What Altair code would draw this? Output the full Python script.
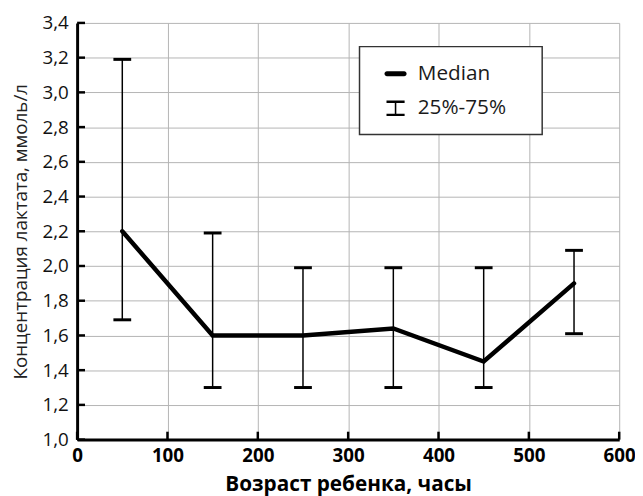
import altair as alt
import pandas as pd

hours = [50, 150, 250, 350, 450, 550]
median = [2.2, 1.6, 1.6, 1.64, 1.45, 1.9]
q25 = [1.69, 1.3, 1.3, 1.3, 1.3, 1.61]
q75 = [3.19, 2.19, 1.99, 1.99, 1.99, 2.09]
x_ticks = [0, 100, 200, 300, 400, 500, 600]
y_ticks = [1.0, 1.2, 1.4, 1.6, 1.8, 2.0, 2.2, 2.4, 2.6, 2.8, 3.0, 3.2, 3.4]
legend_labels = ["Median", "25%-75%"]

df = pd.DataFrame({"h": hours, "med": median, "q1": q25, "q3": q75})
W, H = 549, 422
FONT = "Open Sans"

xs = alt.Scale(domain=[0, 600], nice=False, zero=False)
ys = alt.Scale(domain=[1.0, 3.4], nice=False, zero=False)

xaxis = alt.Axis(values=x_ticks, tickCount=30, title="Возраст ребенка, часы", grid=True,
                 gridColor="#b4b4b4", gridWidth=1, ticks=False, domainColor="black", domainWidth=3,
                 labelOverlap=False,
                 labelFont=FONT, labelFontSize=19, labelFontWeight="bold", labelColor="black",
                 labelPadding=7, labelFlush=False,
                 titleFont=FONT, titleFontSize=21, titleFontWeight="bold", titleColor="black",
                 titleY=46, titleBaseline="middle")
yaxis = alt.Axis(values=y_ticks, tickCount=30, title="Концентрация лактата, ммоль/л", grid=True,
                 gridColor="#b4b4b4", gridWidth=1, ticks=False, domainColor="black", domainWidth=3,
                 labelOverlap=False,
                 labelFont=FONT, labelFontSize=19, labelColor="#111", labelPadding=9,
                 labelExpr="replace(format(datum.value, '.1f'), '.', ',')",
                 titleFont=FONT, titleFontSize=19, titleFontWeight="normal", titleColor="#222",
                 titleX=-57, titleBaseline="middle")

base = alt.Chart(df)

err = base.mark_rule(color="black", strokeWidth=1.5).encode(
    x=alt.X("h:Q", scale=xs, axis=xaxis),
    y=alt.Y("q1:Q", scale=ys, axis=yaxis),
    y2="q3:Q",
)
cap_lo = base.mark_tick(orient="horizontal", size=18, thickness=3, color="black", opacity=1).encode(
    x=alt.X("h:Q", scale=xs), y=alt.Y("q1:Q", scale=ys))
cap_hi = base.mark_tick(orient="horizontal", size=18, thickness=3, color="black", opacity=1).encode(
    x=alt.X("h:Q", scale=xs), y=alt.Y("q3:Q", scale=ys))
line = base.mark_line(color="black", strokeWidth=4.5, strokeCap="round").encode(
    x=alt.X("h:Q", scale=xs), y=alt.Y("med:Q", scale=ys))

ytick_df = pd.DataFrame({"v": y_ticks})
xtick_df = pd.DataFrame({"v": x_ticks})
yt = alt.Chart(ytick_df).mark_rule(color="black", strokeWidth=2.5).encode(
    y=alt.Y("v:Q", scale=ys), x=alt.value(0), x2=alt.value(8))
xt = alt.Chart(xtick_df).mark_rule(color="black", strokeWidth=2.5).encode(
    x=alt.X("v:Q", scale=xs), y=alt.value(H), y2=alt.value(H - 8))

box = alt.Chart(pd.DataFrame({"a": [0]})).mark_rect(fill="white", stroke="#333", strokeWidth=1.5).encode(
    x=alt.value(286), x2=alt.value(471), y=alt.value(24), y2=alt.value(113))

median_sym = ("M-0.78,-0.22H0.78A0.22,0.22 0 0 1 0.78,0.22H-0.78A0.22,0.22 0 0 1 -0.78,-0.22Z")
ibeam_sym = ("M-0.82,-0.7H0.82V-0.48H-0.82Z"
             "M-0.07,-0.48H0.07V0.48H-0.07Z"
             "M-0.82,0.48H0.82V0.7H-0.82Z")

leg = alt.Chart(pd.DataFrame({"s": legend_labels})).transform_filter("false").mark_point(
    filled=True, color="black"
).encode(
    x=alt.value(0), y=alt.value(0),
    shape=alt.Shape("s:N", scale=alt.Scale(domain=legend_labels, range=[median_sym, ibeam_sym]),
        legend=alt.Legend(orient="none", legendX=311, legendY=40, title=None, symbolSize=500,
                          symbolFillColor="black", symbolStrokeWidth=0,
                          symbolOpacity=1, labelFont=FONT, labelFontSize=21, labelColor="#1a1a1a",
                          labelOffset=11, rowPadding=13, padding=0)),
)

chart = alt.layer(err, cap_lo, cap_hi, line, yt, xt, box, leg).properties(
    width=W, height=H, autosize="none",
    padding={"left": 70, "top": 12, "right": 16, "bottom": 54},
).configure_view(stroke=None)

chart.save("out.html", embed_options={"renderer": "svg", "actions": False})
